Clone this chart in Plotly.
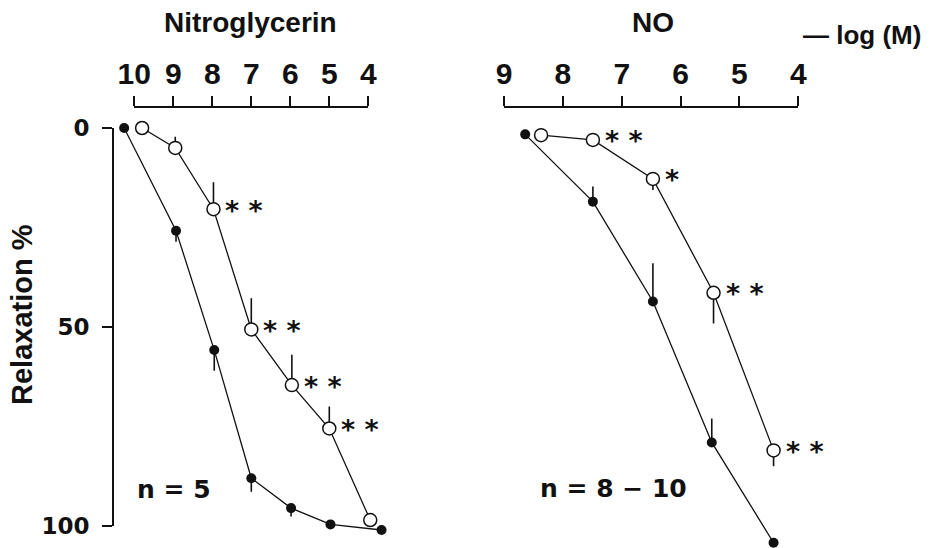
import plotly.graph_objects as go

# ---------------- data ----------------
# Nitroglycerin panel (x = -log M, y = relaxation %)
ntg_closed_x = [10.26, 8.93, 7.95, 7.0, 5.98, 4.97, 3.66]
ntg_closed_y = [0, 25.8, 55.8, 88.0, 95.5, 99.6, 101.0]
ntg_closed_err = [0, 2.8, 5.2, 3.4, 2.1, 0, 0]          # drawn downward

ntg_open_x = [9.8, 8.95, 7.97, 7.0, 5.96, 5.0, 3.95]
ntg_open_y = [0, 5.0, 20.4, 50.6, 64.6, 75.5, 98.5]
ntg_open_err = [0, 2.8, 6.8, 7.8, 7.6, 5.5, 0]          # drawn upward
ntg_open_sig = ["", "", "* *", "* *", "* *", "* *", ""]

# NO panel
no_closed_x = [8.64, 7.49, 6.47, 5.47, 4.42]
no_closed_y = [1.6, 18.5, 43.6, 79.0, 104.2]
no_closed_err = [0, 3.8, 9.6, 6.0, 0]                   # drawn upward

no_open_x = [8.37, 7.49, 6.47, 5.44, 4.42]
no_open_y = [1.8, 3.0, 12.8, 41.4, 81.0]
no_open_err = [0, 0, 2.8, 7.7, 4.0]                     # drawn downward
no_open_sig = ["", "* *", "*", "* *", "* *"]

ntg_ticks = [10, 9, 8, 7, 6, 5, 4]
no_ticks = [9, 8, 7, 6, 5, 4]
y_ticks = [0, 50, 100]

# ---------------- layout helpers ----------------
W, H = 938, 548
WORD_FONT = "Liberation Sans"
NUM_FONT = "DejaVu Sans"
INK = "#111111"


def px(x):
    return x / W


def py(y):
    return 1 - y / H


def zeros_like(a):
    return [0] * len(a)


def b(t):
    return "<b>" + t + "</b>"


# pixel frame of the drawn axes
L_X0, L_X1 = 134.3, 368.3      # -log M 10 .. 4 (left panel)
R_X0, R_X1 = 504.0, 798.3      # -log M 9 .. 4 (right panel)
Y0, Y1 = 128.0, 526.0          # relaxation 0 .. 100
X_AXIS_Y = 106.7
Y_AXIS_X = 113.0


def ext_domain(p0, p1, v0, v1, lo_pad, hi_pad):
    """Extended domain/range so data outside the drawn axis is not clipped."""
    s = (p1 - p0) / abs(v1 - v0)
    sign = 1 if v0 > v1 else -1
    return [p0 - lo_pad * s, p1 + hi_pad * s], [v0 + lo_pad * sign, v1 - hi_pad * sign]


lx_pix, lx_rng = ext_domain(L_X0, L_X1, 10, 4, 0.6, 0.6)
rx_pix, rx_rng = ext_domain(R_X0, R_X1, 9, 4, 0.3, 0.3)
sy = (Y1 - Y0) / 100.0
y_top_pad, y_bot_pad = 3.0, 5.5
y_pix = [Y0 - y_top_pad * sy, Y1 + y_bot_pad * sy]
y_rng = [100 + y_bot_pad, -y_top_pad]

fig = go.Figure()

line_style = dict(color=INK, width=1.3)
closed_marker = dict(size=10, color=INK, line=dict(width=0))
open_marker = dict(size=13, color="white", line=dict(color=INK, width=1.5))


def err(plus, minus):
    return dict(type="data", symmetric=False, array=plus, arrayminus=minus,
                width=0, thickness=1.6, color=INK)


# Nitroglycerin
fig.add_trace(go.Scatter(
    x=ntg_closed_x, y=ntg_closed_y, mode="lines+markers", xaxis="x", yaxis="y",
    line=line_style, marker=closed_marker, cliponaxis=False,
    error_y=err(ntg_closed_err, zeros_like(ntg_closed_err)),
    showlegend=False, hoverinfo="skip"))
fig.add_trace(go.Scatter(
    x=ntg_open_x, y=ntg_open_y, mode="lines+markers", xaxis="x", yaxis="y",
    line=line_style, marker=open_marker, cliponaxis=False,
    error_y=err(zeros_like(ntg_open_err), ntg_open_err),
    showlegend=False, hoverinfo="skip"))

# NO
fig.add_trace(go.Scatter(
    x=no_closed_x, y=no_closed_y, mode="lines+markers", xaxis="x2", yaxis="y",
    line=line_style, marker=closed_marker, cliponaxis=False,
    error_y=err(zeros_like(no_closed_err), no_closed_err),
    showlegend=False, hoverinfo="skip"))
fig.add_trace(go.Scatter(
    x=no_open_x, y=no_open_y, mode="lines+markers", xaxis="x2", yaxis="y",
    line=line_style, marker=open_marker, cliponaxis=False,
    error_y=err(no_open_err, zeros_like(no_open_err)),
    showlegend=False, hoverinfo="skip"))

# invisible anchors so the display axes get drawn
fig.add_trace(go.Scatter(x=[ntg_ticks[0], ntg_ticks[-1]], y=[y_ticks[0], y_ticks[-1]],
                         xaxis="x3", yaxis="y3", mode="markers",
                         marker=dict(opacity=0), showlegend=False, hoverinfo="skip"))
fig.add_trace(go.Scatter(x=[no_ticks[0], no_ticks[-1]], y=[y_ticks[0], y_ticks[-1]],
                         xaxis="x4", yaxis="y3", mode="markers",
                         marker=dict(opacity=0), showlegend=False, hoverinfo="skip"))

# significance stars
annotations = []
for xs, ys, sig, xr in [(ntg_open_x, ntg_open_y, ntg_open_sig, "x"),
                        (no_open_x, no_open_y, no_open_sig, "x2")]:
    for xv, yv, s in zip(xs, ys, sig):
        if s:
            annotations.append(dict(
                x=xv, y=yv, xref=xr, yref="y", text=b(s),
                showarrow=False, xanchor="left", yanchor="middle", xshift=10, yshift=-1,
                font=dict(family=NUM_FONT, size=27, color=INK)))


def label(text, x, y, size, family, xanchor="center", angle=0):
    annotations.append(dict(x=px(x), y=py(y), xref="paper", yref="paper", text=b(text),
                            showarrow=False, xanchor=xanchor, yanchor="middle",
                            textangle=angle,
                            font=dict(family=family, size=size, color=INK)))


label("Nitroglycerin", 250, 23, 28, WORD_FONT)
label("NO", 653, 23, 28, WORD_FONT)
label("\u2014 log (M)", 801, 35, 26, WORD_FONT, xanchor="left")
label("Relaxation %", 22, 315, 29, WORD_FONT, angle=-90)
label("n = 5", 174, 489, 25, NUM_FONT)
label("n = 8 \u2212 10", 613, 488, 25, NUM_FONT)

hidden = dict(visible=False, automargin=False, showgrid=False, zeroline=False)
shown = dict(showgrid=False, zeroline=False, showline=True, linecolor=INK, automargin=False,
             linewidth=2, ticks="outside", ticklen=10, tickwidth=2, tickcolor=INK)
xfont = dict(family=WORD_FONT, size=30, color=INK)

fig.update_layout(
    width=W, height=H, margin=dict(l=0, r=0, t=0, b=0, pad=0),
    paper_bgcolor="white", plot_bgcolor="rgba(0,0,0,0)",
    xaxis=dict(domain=[px(lx_pix[0]), px(lx_pix[1])], range=lx_rng, anchor="y", **hidden),
    xaxis2=dict(domain=[px(rx_pix[0]), px(rx_pix[1])], range=rx_rng, anchor="y", **hidden),
    yaxis=dict(domain=[py(y_pix[1]), py(y_pix[0])], range=y_rng, anchor="x", **hidden),
    xaxis3=dict(domain=[px(L_X0), px(L_X1)], range=[10, 4], side="top",
                anchor="free", position=py(X_AXIS_Y), tickvals=ntg_ticks,
                ticktext=[b(str(t)) for t in ntg_ticks], tickfont=xfont, **shown),
    xaxis4=dict(domain=[px(R_X0), px(R_X1)], range=[9, 4], side="top",
                anchor="free", position=py(X_AXIS_Y), tickvals=no_ticks,
                ticktext=[b(str(t)) for t in no_ticks], tickfont=xfont, **shown),
    yaxis3=dict(domain=[py(Y1), py(Y0)], range=[100, 0], anchor="free",
                position=px(Y_AXIS_X), tickvals=y_ticks,
                ticktext=[b(str(t)) for t in y_ticks], ticklabelstandoff=8,
                tickfont=dict(family=NUM_FONT, size=23, color=INK), **shown),
    annotations=annotations,
)

fig.write_html("out.html", config={"displayModeBar": False})
